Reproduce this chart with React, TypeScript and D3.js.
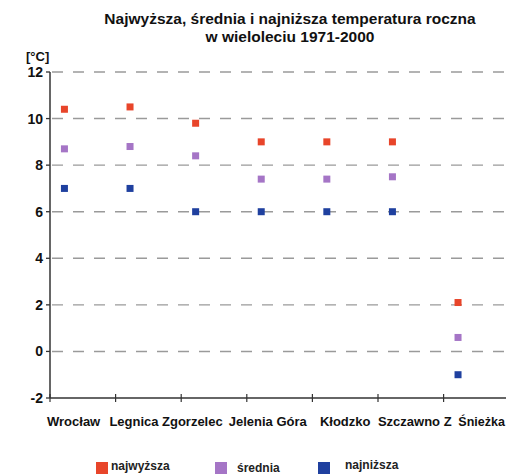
import React from "react";
import * as d3 from "d3";

const categories = ["Wrocław", "Legnica", "Zgorzelec", "Jelenia Góra", "Kłodzko", "Szczawno Z", "Śnieżka"];
const najwyzsza = [10.4, 10.5, 9.8, 9.0, 9.0, 9.0, 2.1];
const srednia = [8.7, 8.8, 8.4, 7.4, 7.4, 7.5, 0.6];
const najnizsza = [7.0, 7.0, 6.0, 6.0, 6.0, 6.0, -1.0];
const yTicks = [-2, 0, 2, 4, 6, 8, 10, 12];
const seriesNames = ["najwyższa", "średnia", "najniższa"];
const seriesColors = ["#e8452a", "#a575c6", "#1f409f"];
const titleLines = ["Najwyższa, średnia i najniższa temperatura roczna", "w wieloleciu 1971-2000"];
const unitLabel = "[°C]";
// label x-offsets relative to band start (fraction of band)
const labelOffsets = [0.36, 0.28, 0.17, 0.32, 0.5, 0.56, 0.58];

const W = 506;
const H = 475;
const left = 50;
const bottom = 398;
const top = 72;

export default function App() {
  const x = d3.scaleBand<string>().domain(categories).range([left, left + 7 * 65.6]);
  const bw = x.bandwidth();
  const y = d3.scaleLinear().domain([-2, 12]).range([bottom, top]);
  const series = [najwyzsza, srednia, najnizsza];
  const font = "'Liberation Sans', Arial, sans-serif";
  const ms = 7;
  const legendX = [96, 215, 318];
  const legendTextX = [111, 237, 345];
  const legendTextY = [470, 472, 469];
  return (
    <svg width={W} height={H} style={{ position: "absolute", left: 0, top: 0, fontFamily: font }}>
      <rect width={W} height={H} fill="#fff" />
      {titleLines.map((t, i) => (
        <text key={t} x={290} y={24 + i * 18} textAnchor="middle" fontSize={15.5} fontWeight="bold" fill="#111">
          {t}
        </text>
      ))}
      <text x={26} y={61} fontSize={13} fontWeight="bold" fill="#111">{unitLabel}</text>
      {yTicks.map((t) => (
        <g key={t}>
          {t !== -2 && (
            <line x1={52} x2={W} y1={y(t)} y2={y(t)} stroke="#9a9a9a" strokeWidth={1.4} strokeDasharray="11,10" />
          )}
          <line x1={left - 4} x2={left} y1={y(t)} y2={y(t)} stroke="#333" strokeWidth={1.3} />
          <text x={43} y={y(t) + 5} textAnchor="end" fontSize={14} fontWeight="bold" fill="#111">
            {t}
          </text>
        </g>
      ))}
      <line x1={left} x2={left} y1={top} y2={bottom} stroke="#333" strokeWidth={1.5} />
      <line x1={left} x2={W} y1={bottom} y2={bottom} stroke="#333" strokeWidth={1.5} />
      {categories.map((c) => (
        <line key={c} x1={x(c)!} x2={x(c)!} y1={bottom - 4} y2={bottom + 4} stroke="#333" strokeWidth={1.2} />
      ))}
      {categories.map((c, i) => (
        <text
          key={c}
          x={x(c)! + bw * labelOffsets[i]}
          y={426}
          textAnchor="middle"
          fontSize={i === categories.length - 1 ? 12.5 : 13}
          fontWeight="bold"
          fill="#111"
        >
          {c}
        </text>
      ))}
      {series.map((vals, si) =>
        vals.map((v, i) => (
          <rect
            key={si + "-" + i}
            x={x(categories[i])! + bw * 0.22 - ms / 2}
            y={y(v) - ms / 2}
            width={ms}
            height={ms}
            fill={seriesColors[si]}
          />
        ))
      )}
      {seriesNames.map((n, i) => (
        <g key={n}>
          <rect x={legendX[i]} y={462} width={12} height={12} fill={seriesColors[i]} />
          <text x={legendTextX[i]} y={legendTextY[i]} fontSize={12} fontWeight="bold" fill="#222">
            {n}
          </text>
        </g>
      ))}
    </svg>
  );
}
